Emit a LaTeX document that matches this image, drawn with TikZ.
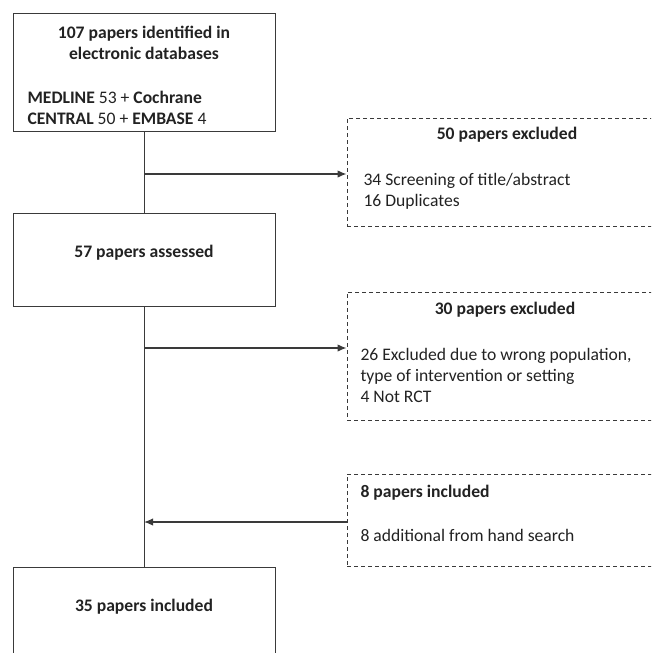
\documentclass[tikz,border=0pt]{standalone}
\usepackage{fontspec}
\setmainfont{Carlito}
\usetikzlibrary{positioning,arrows.meta}
\definecolor{linegray}{HTML}{3A3A3A}
\definecolor{textgray}{HTML}{222222}
\begin{document}
\begin{tikzpicture}[x=1pt,y=-1pt,>={Latex[length=9pt,width=7.5pt]},
    every node/.style={font=\fontsize{17.6}{21}\selectfont,text=textgray},
    bold/.style={font=\fontsize{17.6}{21}\selectfont\bfseries},
    box/.style={draw=linegray,line width=1pt,minimum width=262pt,inner sep=0pt},
    xbox/.style={draw=linegray,line width=0.9pt,dash pattern=on 4pt off 3pt,minimum width=320pt,inner sep=0pt},
    flow/.style={draw=linegray,line width=1pt},
    side/.style={draw=linegray,line width=1.4pt,->}]
        \useasboundingbox (0,0) rectangle (651,653);
        \clip (0,0) rectangle (651,653);
        % main column
        \node[box,minimum height=118pt] (b1) at (144,72) {};
        \node[box,minimum height=93pt] (b2) at (144,259.5) {};
        \node[box,minimum height=100pt] (b4) at (144,617) {};
        \node[align=center,bold] (t1) at (144,42.5) {107 papers identified in\\electronic databases};
        \node[align=left,anchor=west] (t1b) at (24,107.5) {\textbf{MEDLINE} 53 + \textbf{Cochrane}\\\textbf{CENTRAL} 50 + \textbf{EMBASE} 4};
        \node[bold] (t2) at (144,253) {57 papers assessed};
        \node[bold] (t4) at (144,607) {35 papers included};
        % side boxes
        \node[xbox,minimum height=108pt] (x1) at (507,172) {};
        \node[xbox,minimum height=128pt] (x2) at (507,356) {};
        \node[xbox,minimum height=92pt] (x3) at (507,520) {};
        \node[bold] (s1) at (507,135) {50 papers excluded};
        \node[align=left,anchor=west] (s1b) at (360,191) {34 Screening of title/abstract\\16 Duplicates};
        \node[bold] (s2) at (505,310) {30 papers excluded};
        \node[align=left,anchor=west] (s2b) at (357,375) {26 Excluded due to wrong population,\\type of intervention or setting\\4 Not RCT};
        \node[anchor=west,bold] (s3) at (357,493) {8 papers included};
        \node[anchor=west] (s3b) at (357,535) {8 additional from hand search};
        % connectors
        \coordinate (j1) at (144,174);
        \coordinate (j2) at (144,348);
        \coordinate (j3) at (144,522);
        \draw[flow] (b1) -- (b2);
        \draw[flow] (b2) -- (b4);
        \draw[side] (j1) -- (j1 -| x1.west);
        \draw[side] (j2) -- (j2 -| x2.west);
        \draw[side] (j3 -| x3.west) -- (j3);
\end{tikzpicture}
\end{document}
